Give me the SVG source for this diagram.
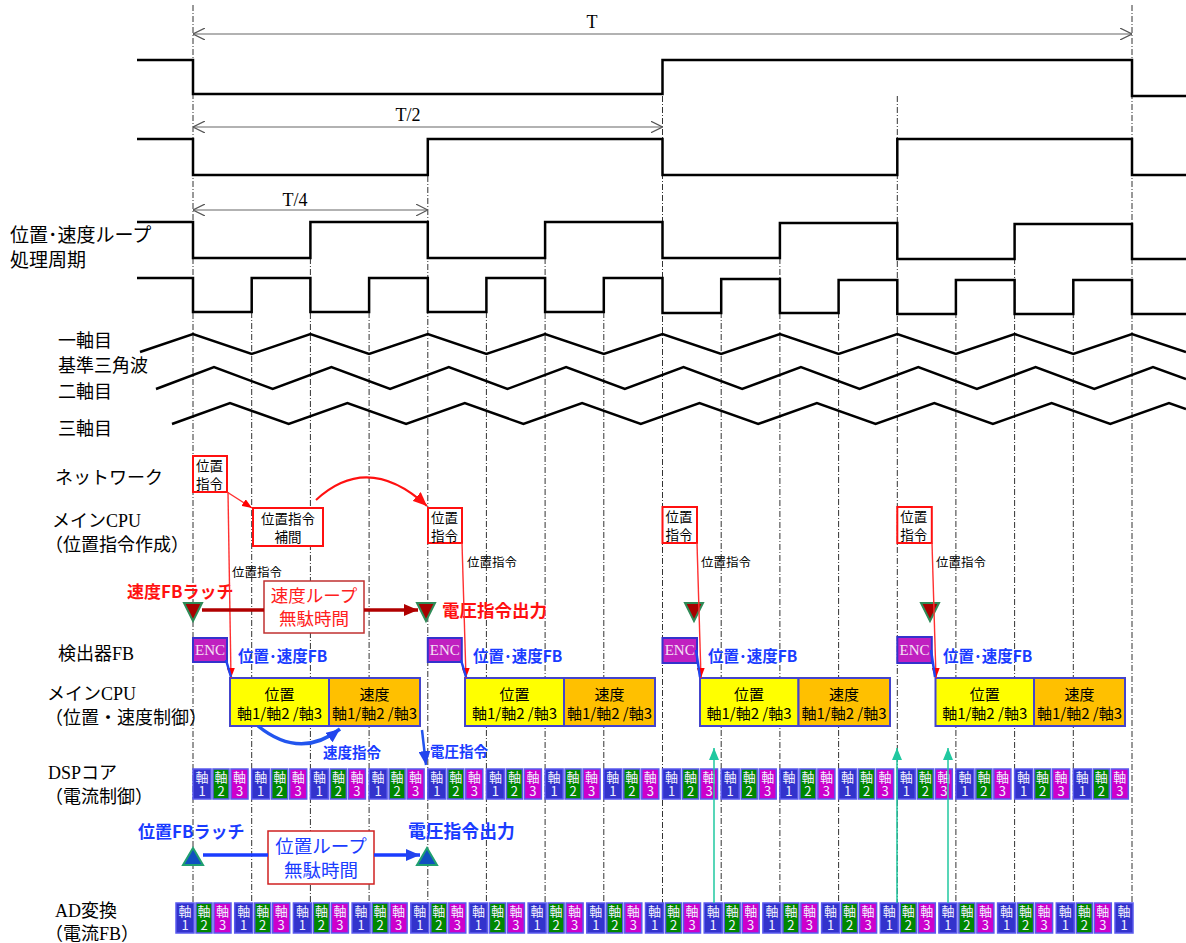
<svg xmlns="http://www.w3.org/2000/svg" width="1186" height="943" viewBox="0 0 1186 943">
<style>
.wave{fill:none;stroke:#000;stroke-width:2.5}
.grid{stroke:#333;stroke-width:1;stroke-dasharray:6 2 1 2}
.dim{stroke:#666;stroke-width:1.2;fill:none}
.lbl{font-family:'Liberation Serif','Noto Sans CJK JP',serif;font-size:18px;fill:#000}
.sans{font-family:'Noto Sans CJK JP',sans-serif}
.serif{font-family:'Liberation Serif',serif}
.nbox{fill:#fff;stroke:#ff1010;stroke-width:2}
.ntxt{font-family:'Noto Sans CJK JP',sans-serif;font-size:13.5px;fill:#000}
.small{font-family:'Noto Sans CJK JP',sans-serif;font-size:12.5px;fill:#000}
.redln{stroke:#ff3030;stroke-width:1.4;fill:none}
.rtri{fill:#a80000;stroke:#2e8b57;stroke-width:2}
.btri{fill:#1050c0;stroke:#20a070;stroke-width:2}
.enc{fill:#c020c0;stroke:#3333cc;stroke-width:2}
.enct{font-family:'Liberation Serif',serif;font-size:15px;fill:#f4e0f4;text-anchor:middle}
.bfb{font-family:'Noto Sans CJK JP',sans-serif;font-weight:bold;fill:#1a3cff}
.rb{font-family:'Noto Sans CJK JP',sans-serif;font-weight:bold;fill:#ff1010}
.yb{fill:#ffff00;stroke:#4444cc;stroke-width:2}
.ob{fill:#ffc000;stroke:#4444cc;stroke-width:2}
.bt{font-family:'Noto Sans CJK JP',sans-serif;font-size:15px;fill:#000;text-anchor:middle}
.c1{fill:#3333cc;stroke:#5a5aee;stroke-width:1.5}
.c2{fill:#008800;stroke:#5a5aee;stroke-width:1.5}
.c3{fill:#cc00cc;stroke:#5a5aee;stroke-width:1.5}
.ct{font-family:'Noto Sans CJK JP',sans-serif;font-size:13px;fill:#f0f0ff;text-anchor:middle}
</style>
<defs>
<marker id="mdim" viewBox="0 0 12 12" refX="12" refY="6" markerWidth="12" markerHeight="12" markerUnits="userSpaceOnUse" orient="auto-start-reverse"><path d="M0,0 L12,6 L0,12" fill="none" stroke="#555" stroke-width="1.2"/></marker>
<marker id="mred" viewBox="0 0 10 8" refX="10" refY="4" markerWidth="10" markerHeight="8" markerUnits="userSpaceOnUse" orient="auto"><path d="M0,0 L10,4 L0,8 Z" fill="#ff0000"/></marker>
<marker id="mred2" viewBox="0 0 14 12" refX="14" refY="6" markerWidth="14" markerHeight="12" markerUnits="userSpaceOnUse" orient="auto"><path d="M0,0 L14,6 L0,12 Z" fill="#ff1010"/></marker>
<marker id="mdred" viewBox="0 0 14 12" refX="14" refY="6" markerWidth="14" markerHeight="12" markerUnits="userSpaceOnUse" orient="auto"><path d="M0,0 L14,6 L0,12 Z" fill="#b00000"/></marker>
<marker id="mblue" viewBox="0 0 14 12" refX="14" refY="6" markerWidth="14" markerHeight="12" markerUnits="userSpaceOnUse" orient="auto"><path d="M0,0 L14,6 L0,12 Z" fill="#2244ee"/></marker>
<marker id="mteal" viewBox="0 0 12 10" refX="12" refY="5" markerWidth="12" markerHeight="10" markerUnits="userSpaceOnUse" orient="auto"><path d="M0,0 L12,5 L0,10 Z" fill="#20c8a0"/></marker>
<g id="a1"><rect x="0" y="0" width="18" height="30" class="c1"/><text x="9" y="13" class="ct">軸<tspan x="9" dy="14">1</tspan></text></g>
<g id="a2"><rect x="0" y="0" width="16" height="30" class="c2"/><text x="8" y="13" class="ct">軸<tspan x="8" dy="14">2</tspan></text></g>
<g id="a3"><rect x="0" y="0" width="17" height="30" class="c3"/><text x="8.5" y="13" class="ct">軸<tspan x="8.5" dy="14">3</tspan></text></g>
</defs>
<rect width="1186" height="943" fill="#fff"/>

<g id="grid">
<line class="grid" x1="193" y1="5" x2="193" y2="903"/>
<line class="grid" x1="251.7" y1="312" x2="251.7" y2="903"/>
<line class="grid" x1="310.4" y1="258" x2="310.4" y2="903"/>
<line class="grid" x1="369.1" y1="312" x2="369.1" y2="903"/>
<line class="grid" x1="427.8" y1="176" x2="427.8" y2="903"/>
<line class="grid" x1="486.4" y1="312" x2="486.4" y2="903"/>
<line class="grid" x1="545.1" y1="258" x2="545.1" y2="903"/>
<line class="grid" x1="603.8" y1="312" x2="603.8" y2="903"/>
<line class="grid" x1="662.5" y1="96" x2="662.5" y2="903"/>
<line class="grid" x1="721.2" y1="312" x2="721.2" y2="903"/>
<line class="grid" x1="779.9" y1="258" x2="779.9" y2="903"/>
<line class="grid" x1="838.6" y1="312" x2="838.6" y2="903"/>
<line class="grid" x1="897.3" y1="96" x2="897.3" y2="903"/>
<line class="grid" x1="955.9" y1="312" x2="955.9" y2="903"/>
<line class="grid" x1="1014.6" y1="258" x2="1014.6" y2="903"/>
<line class="grid" x1="1073.3" y1="312" x2="1073.3" y2="903"/>
<line class="grid" x1="1132" y1="5" x2="1132" y2="903"/>
</g>

<g id="dimensions">
<line class="dim" x1="193" y1="34" x2="1132" y2="34" marker-start="url(#mdim)" marker-end="url(#mdim)"/>
<text x="592" y="28" class="serif" font-size="18" text-anchor="middle">T</text>
<line class="dim" x1="193" y1="127" x2="662.5" y2="127" marker-start="url(#mdim)" marker-end="url(#mdim)"/>
<text x="408" y="121" class="serif" font-size="18" text-anchor="middle">T/2</text>
<line class="dim" x1="193" y1="210" x2="427.8" y2="210" marker-start="url(#mdim)" marker-end="url(#mdim)"/>
<text x="295" y="206" class="serif" font-size="18" text-anchor="middle">T/4</text>
</g>

<g id="waveforms">
<path class="wave" d="M137,60 H193 V94 H662.5 V60 H1132 V96 H1186"/>
<path class="wave" d="M137,139 H193 V175 H427.8 V139 H662.5 V175 H897.3 V139 H1132 V175 H1186"/>
<path class="wave" d="M137,222 H193 V258 H310.4 V222 H427.8 V258 H545.1 V222 H662.5 V258 H779.9 V223 H897.3 V259 H1014.6 V224 H1132 V259 H1186"/>
<path class="wave" d="M137,278 H193 V312 H251.7 V278 H310.4 V312 H369.1 V278 H427.8 V312 H486.4 V278 H545.1 V312 H603.8 V278 H662.5 V313 H721.2 V279 H779.9 V313 H838.6 V280 H897.3 V314 H955.9 V280 H1014.6 V314 H1073.3 V280 H1132 V314 H1186"/>
<path class="wave" d="M140,352 L193,334 L251.7,354 L310.4,334 L369.1,354 L427.8,334 L486.4,354 L545.1,334 L603.8,354 L662.5,334 L721.2,354 L779.9,334 L838.6,354 L897.3,334 L955.9,354 L1014.6,334 L1073.3,354 L1132,334 L1186,352"/>
<path class="wave" d="M156,389 L214,367 L272.7,389 L331.4,367 L390.1,389 L448.8,367 L507.4,389 L566.1,367 L624.8,389 L683.5,367 L742.2,389 L800.9,367 L859.6,389 L918.3,367 L976.9,389 L1035.6,367 L1094.3,389 L1153,367 L1186,379"/>
<path class="wave" d="M172,424 L230,403 L288.7,424 L347.4,403 L406.1,424 L464.8,403 L523.4,424 L582.1,403 L640.8,424 L699.5,403 L758.2,424 L816.9,403 L875.6,424 L934.3,403 L992.9,424 L1051.6,403 L1110.3,424 L1169,403 L1186,409"/>
</g>

<g id="labels">
<text x="10" y="241.5" class="sans" font-size="19">位置･速度ループ<tspan x="10" dy="25.5">処理周期</tspan></text>
<text x="58" y="347" class="sans" font-size="18">一軸目</text>
<text x="58" y="372" class="sans" font-size="18">基準三角波</text>
<text x="58" y="398" class="sans" font-size="18">二軸目</text>
<text x="58" y="435" class="sans" font-size="18">三軸目</text>
<text x="55" y="484" class="lbl">ネットワーク</text>
<text x="52" y="527" class="lbl">メインCPU</text>
<text x="45" y="551" class="lbl">（位置指令作成）</text>
<text x="58" y="660" class="lbl">検出器FB</text>
<text x="47" y="700" class="lbl">メインCPU</text>
<text x="45" y="724" class="lbl">（位置・速度制御）</text>
<text x="48" y="779" class="lbl">DSPコア</text>
<text x="45" y="803" class="lbl">（電流制御）</text>
<text x="55" y="917" class="lbl">AD変換</text>
<text x="45" y="940" class="lbl">（電流FB）</text>
</g>

<g id="net1"><rect class="nbox" x="193" y="456" width="34" height="36"/><text class="ntxt" x="196" y="471">位置<tspan x="196" dy="18">指令</tspan></text></g>
<g id="interp"><rect class="nbox" x="253" y="508" width="70" height="38"/><text class="ntxt" x="288" y="524" text-anchor="middle">位置指令<tspan x="288" dy="18">補間</tspan></text></g>
<g id="net2"><rect class="nbox" x="428" y="508" width="34" height="35"/><text class="ntxt" x="431" y="523">位置<tspan x="431" dy="18">指令</tspan></text></g>
<g id="net3"><rect class="nbox" x="662.5" y="507" width="34.5" height="36"/><text class="ntxt" x="665.5" y="522">位置<tspan x="665.5" dy="18">指令</tspan></text></g>
<g id="net4"><rect class="nbox" x="897.3" y="507" width="34.5" height="36"/><text class="ntxt" x="900.3" y="522">位置<tspan x="900.3" dy="18">指令</tspan></text></g>

<g id="speedloop">
<text class="rb" x="127" y="598" font-size="17">速度FBラッチ</text>
<rect x="264" y="581" width="100" height="52" fill="#fff" stroke="#c03030" stroke-width="1.5"/>
<text x="314" y="602" class="sans" font-size="17.5" fill="#ff2020" text-anchor="middle">速度ループ<tspan x="314" dy="23">無駄時間</tspan></text>
<text class="rb" x="442" y="617" font-size="17.5">電圧指令出力</text>
<path class="rtri" d="M184,603 L202,603 L193,621 Z"/>
<path class="rtri" d="M417,603 L435,603 L426,621 Z"/>
<path class="rtri" d="M685,603 L703,603 L694,621 Z"/>
<path class="rtri" d="M921,603 L939,603 L930,621 Z"/>
</g>

<g id="enc">
<rect class="enc" x="193" y="638" width="34" height="24"/><text class="enct" x="210" y="655">ENC</text>
<rect class="enc" x="427.8" y="638" width="34" height="24"/><text class="enct" x="444.8" y="655">ENC</text>
<rect class="enc" x="662.5" y="638" width="34.5" height="25"/><text class="enct" x="679.7" y="655">ENC</text>
<rect class="enc" x="897.3" y="637" width="34.5" height="26"/><text class="enct" x="914.5" y="655">ENC</text>
<text class="bfb" x="238" y="662" font-size="15.5">位置･速度FB</text>
<text class="bfb" x="473" y="662" font-size="15.5">位置･速度FB</text>
<text class="bfb" x="708" y="662" font-size="15.5">位置･速度FB</text>
<text class="bfb" x="943" y="662" font-size="15.5">位置･速度FB</text>
</g>

<g id="cpu1"><rect class="yb" x="230" y="678" width="99" height="48"/><rect class="ob" x="329" y="678" width="91" height="48"/>
<text class="bt" x="279.5" y="700">位置<tspan x="279.5" dy="19">軸1/軸2 /軸3</tspan></text>
<text class="bt" x="374.5" y="700">速度<tspan x="374.5" dy="19">軸1/軸2 /軸3</tspan></text></g>
<g id="cpu2"><rect class="yb" x="465" y="678" width="99" height="48"/><rect class="ob" x="564" y="678" width="91" height="48"/>
<text class="bt" x="514.5" y="700">位置<tspan x="514.5" dy="19">軸1/軸2 /軸3</tspan></text>
<text class="bt" x="609.5" y="700">速度<tspan x="609.5" dy="19">軸1/軸2 /軸3</tspan></text></g>
<g id="cpu3"><rect class="yb" x="700" y="678" width="98.5" height="48"/><rect class="ob" x="798.5" y="678" width="91.5" height="48"/>
<text class="bt" x="749" y="700">位置<tspan x="749" dy="19">軸1/軸2 /軸3</tspan></text>
<text class="bt" x="844" y="700">速度<tspan x="844" dy="19">軸1/軸2 /軸3</tspan></text></g>
<g id="cpu4"><rect class="yb" x="935.5" y="678" width="98.5" height="48"/><rect class="ob" x="1034" y="678" width="91" height="48"/>
<text class="bt" x="984.7" y="700">位置<tspan x="984.7" dy="19">軸1/軸2 /軸3</tspan></text>
<text class="bt" x="1079.5" y="700">速度<tspan x="1079.5" dy="19">軸1/軸2 /軸3</tspan></text></g>

<g id="posloop">
<text class="bfb" x="138" y="838" font-size="17">位置FBラッチ</text>
<rect x="268" y="831" width="106" height="53" fill="#fff" stroke="#d02020" stroke-width="1.5"/>
<text x="321" y="852.5" class="sans" font-size="18.5" fill="#1a3cff" text-anchor="middle">位置ループ<tspan x="321" dy="24.5">無駄時間</tspan></text>
<text class="bfb" x="408" y="838" font-size="17.8">電圧指令出力</text>
<path class="btri" d="M183,865 L203,865 L193,848 Z"/>
<path class="btri" d="M417,865 L437,865 L427,848 Z"/>
</g>

<g id="dsp">
<use href="#a1" x="193" y="769"/><use href="#a2" x="213" y="769"/><use href="#a3" x="231" y="769"/>
<use href="#a1" x="251.7" y="769"/><use href="#a2" x="271.7" y="769"/><use href="#a3" x="289.7" y="769"/>
<use href="#a1" x="310.4" y="769"/><use href="#a2" x="330.4" y="769"/><use href="#a3" x="348.4" y="769"/>
<use href="#a1" x="369.1" y="769"/><use href="#a2" x="389.1" y="769"/><use href="#a3" x="407.1" y="769"/>
<use href="#a1" x="427.8" y="769"/><use href="#a2" x="447.8" y="769"/><use href="#a3" x="465.8" y="769"/>
<use href="#a1" x="486.4" y="769"/><use href="#a2" x="506.4" y="769"/><use href="#a3" x="524.4" y="769"/>
<use href="#a1" x="545.1" y="769"/><use href="#a2" x="565.1" y="769"/><use href="#a3" x="583.1" y="769"/>
<use href="#a1" x="603.8" y="769"/><use href="#a2" x="623.8" y="769"/><use href="#a3" x="641.8" y="769"/>
<use href="#a1" x="662.5" y="769"/><use href="#a2" x="682.5" y="769"/><use href="#a3" x="700.5" y="769"/>
<use href="#a1" x="721.2" y="769"/><use href="#a2" x="741.2" y="769"/><use href="#a3" x="759.2" y="769"/>
<use href="#a1" x="779.9" y="769"/><use href="#a2" x="799.9" y="769"/><use href="#a3" x="817.9" y="769"/>
<use href="#a1" x="838.6" y="769"/><use href="#a2" x="858.6" y="769"/><use href="#a3" x="876.6" y="769"/>
<use href="#a1" x="897.3" y="769"/><use href="#a2" x="917.3" y="769"/><use href="#a3" x="935.3" y="769"/>
<use href="#a1" x="955.9" y="769"/><use href="#a2" x="975.9" y="769"/><use href="#a3" x="993.9" y="769"/>
<use href="#a1" x="1014.6" y="769"/><use href="#a2" x="1034.6" y="769"/><use href="#a3" x="1052.6" y="769"/>
<use href="#a1" x="1073.3" y="769"/><use href="#a2" x="1093.3" y="769"/><use href="#a3" x="1111.3" y="769"/>
</g>

<g id="ad">
<use href="#a1" x="176" y="903"/><use href="#a2" x="196" y="903"/><use href="#a3" x="214" y="903"/>
<use href="#a1" x="234.7" y="903"/><use href="#a2" x="254.7" y="903"/><use href="#a3" x="272.7" y="903"/>
<use href="#a1" x="293.4" y="903"/><use href="#a2" x="313.4" y="903"/><use href="#a3" x="331.4" y="903"/>
<use href="#a1" x="352.1" y="903"/><use href="#a2" x="372.1" y="903"/><use href="#a3" x="390.1" y="903"/>
<use href="#a1" x="410.8" y="903"/><use href="#a2" x="430.8" y="903"/><use href="#a3" x="448.8" y="903"/>
<use href="#a1" x="469.4" y="903"/><use href="#a2" x="489.4" y="903"/><use href="#a3" x="507.4" y="903"/>
<use href="#a1" x="528.1" y="903"/><use href="#a2" x="548.1" y="903"/><use href="#a3" x="566.1" y="903"/>
<use href="#a1" x="586.8" y="903"/><use href="#a2" x="606.8" y="903"/><use href="#a3" x="624.8" y="903"/>
<use href="#a1" x="645.5" y="903"/><use href="#a2" x="665.5" y="903"/><use href="#a3" x="683.5" y="903"/>
<use href="#a1" x="704.2" y="903"/><use href="#a2" x="724.2" y="903"/><use href="#a3" x="742.2" y="903"/>
<use href="#a1" x="762.9" y="903"/><use href="#a2" x="782.9" y="903"/><use href="#a3" x="800.9" y="903"/>
<use href="#a1" x="821.6" y="903"/><use href="#a2" x="841.6" y="903"/><use href="#a3" x="859.6" y="903"/>
<use href="#a1" x="880.3" y="903"/><use href="#a2" x="900.3" y="903"/><use href="#a3" x="918.3" y="903"/>
<use href="#a1" x="938.9" y="903"/><use href="#a2" x="958.9" y="903"/><use href="#a3" x="976.9" y="903"/>
<use href="#a1" x="997.6" y="903"/><use href="#a2" x="1017.6" y="903"/><use href="#a3" x="1035.6" y="903"/>
<use href="#a1" x="1056.3" y="903"/><use href="#a2" x="1076.3" y="903"/><use href="#a3" x="1094.3" y="903"/>
<use href="#a1" x="1115" y="903"/>
</g>

<g id="connectors">
<line class="redln" x1="227" y1="492" x2="252" y2="508" marker-end="url(#mred)"/>
<path d="M316,500 Q368,452 427,506" fill="none" stroke="#ff1010" stroke-width="2" marker-end="url(#mred2)"/>
<line class="redln" x1="228" y1="492" x2="231" y2="678" marker-end="url(#mred)"/>
<line class="redln" x1="462" y1="543" x2="466" y2="678" marker-end="url(#mred)"/>
<line class="redln" x1="697" y1="543" x2="701" y2="678" marker-end="url(#mred)"/>
<line class="redln" x1="932" y1="543" x2="936" y2="678" marker-end="url(#mred)"/>
<text class="small" x="232" y="577">位置指令</text>
<text class="small" x="467" y="567">位置指令</text>
<text class="small" x="701" y="567">位置指令</text>
<text class="small" x="936" y="567">位置指令</text>
<line x1="202" y1="610" x2="264" y2="610" stroke="#b00000" stroke-width="3.5"/>
<line x1="364" y1="610" x2="418" y2="610" stroke="#b00000" stroke-width="3.5" marker-end="url(#mdred)"/>
<line x1="226" y1="660" x2="231" y2="677" stroke="#2244ee" stroke-width="2.5"/>
<line x1="461" y1="660" x2="466" y2="677" stroke="#2244ee" stroke-width="2.5"/>
<line x1="696" y1="650" x2="700" y2="677" stroke="#2244ee" stroke-width="2.5"/>
<line x1="931" y1="650" x2="935" y2="677" stroke="#2244ee" stroke-width="2.5"/>
<path d="M258,726 Q300,760 340,729" fill="none" stroke="#2255ee" stroke-width="3.5" marker-end="url(#mblue)"/>
<text class="bfb" x="323" y="758" font-size="14.5">速度指令</text>
<line x1="422" y1="730" x2="426" y2="765" stroke="#2255ee" stroke-width="2.5" marker-end="url(#mblue)"/>
<text class="bfb" x="430" y="757" font-size="14.5">電圧指令</text>
<line x1="203" y1="855" x2="268" y2="855" stroke="#1a3cff" stroke-width="3.5"/>
<line x1="374" y1="855" x2="420" y2="855" stroke="#1a3cff" stroke-width="3.5" marker-end="url(#mblue)"/>
<line x1="714" y1="903" x2="714" y2="748" stroke="#20c8a0" stroke-width="1.5" marker-end="url(#mteal)"/>
<line x1="897" y1="903" x2="897" y2="748" stroke="#20c8a0" stroke-width="1.5" marker-end="url(#mteal)"/>
<line x1="948" y1="903" x2="948" y2="748" stroke="#20c8a0" stroke-width="1.5" marker-end="url(#mteal)"/>
</g>
</svg>
